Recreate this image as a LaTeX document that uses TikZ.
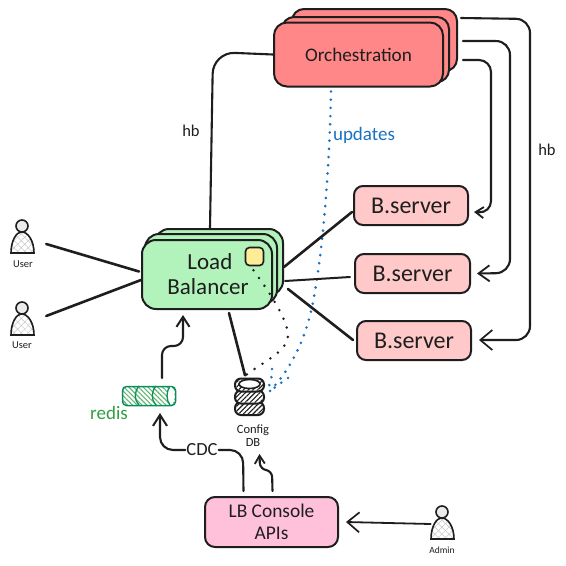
\documentclass[tikz,border=0pt]{standalone}
\usepackage{fontspec}
\setmainfont{Carlito}
\usetikzlibrary{calc,arrows.meta,patterns.meta}
\definecolor{ink}{HTML}{1E1E1E}
\definecolor{orch}{HTML}{FF8787}
\definecolor{srv}{HTML}{FFC9C9}
\definecolor{lbg}{HTML}{B2F2BB}
\definecolor{pinkb}{HTML}{FFC0DA}
\definecolor{yel}{HTML}{FFEC99}
\definecolor{blu}{HTML}{1971C2}
\definecolor{grn}{HTML}{2F9E44}
\definecolor{dgrn}{HTML}{0B8F5A}
\tikzset{
  box/.style={draw=ink,line width=2pt,rounded corners=#1,inner sep=0pt,text=ink,align=center},
  box/.default=9pt,
  conn/.style={draw=ink,line width=2.1pt,line cap=round,rounded corners=14pt},
  plainline/.style={draw=ink,line width=2.6pt,line cap=round},
  headA/.style={-{Straight Barb[length=10pt,width=14pt,line width=1.9pt]}},
  headB/.style={-{Straight Barb[length=12pt,width=20pt,line width=1.7pt]}},
  bluedots/.style={draw=blu,line width=2.9pt,line cap=round,dash pattern=on 0pt off 8.2pt},
  blackdots/.style={draw=ink,line width=2.8pt,line cap=round,dash pattern=on 0pt off 9.5pt},
  lab/.style={text=ink,inner sep=0pt,align=center},
  ghost/.style={inner sep=0pt,minimum width=#1},
  person/.pic={
    \path[fill=white,pattern={Lines[angle=45,distance=5pt,line width=.5pt]},pattern color=black!22]
      (-11,27) .. controls (-11,15) and (-6,6) .. (0,6) .. controls (6,6) and (12,15) .. (12,27) -- cycle;
    \draw[ink,line width=1.6pt,pattern={Lines[angle=-45,distance=5pt,line width=.5pt]},pattern color=black!22]
      (-11,27) .. controls (-11,15) and (-6,6) .. (0,6) .. controls (6,6) and (12,15) .. (12,27) -- cycle;
    \draw[ink,line width=1.6pt,fill=black!8] (0,0) circle (6);
  }
}
\begin{document}
\begin{tikzpicture}[x=1pt,y=-1pt]
\useasboundingbox (0,0) rectangle (566,566);
\fill[white] (0,0) rectangle (566,566);

% Orchestration stack
\node[box=12pt,fill=orch,minimum width=165pt,minimum height=62pt] (orch3) at (374.5,40) {};
\node[box=12pt,fill=orch,minimum width=167pt,minimum height=65pt] (orch2) at (365.5,49.5) {};
\node[box=13pt,fill=orch,minimum width=169pt,minimum height=64pt,font=\fontsize{19.2}{20}\selectfont] (orch) at (358.5,54.5) {Orchestration};

% B.servers
\node[box,fill=srv,minimum width=114pt,minimum height=39pt,font=\fontsize{24}{26}\selectfont] (s1) at (411,205.5) {B.server};
\node[box,fill=srv,minimum width=115pt,minimum height=39pt,font=\fontsize{24}{26}\selectfont] (s2) at (412.5,273.5) {B.server};
\node[box,fill=srv,minimum width=114pt,minimum height=39pt,font=\fontsize{24}{26}\selectfont] (s3) at (414,340.5) {B.server};

% Load balancer stack
\node[box=14pt,fill=lbg,minimum width=128pt,minimum height=66pt] (lb3) at (219,262) {};
\node[box=14pt,fill=lbg,minimum width=132pt,minimum height=70pt] (lb2) at (211,269) {};
\node[box=14pt,fill=lbg,minimum width=130pt,minimum height=69pt] (lb) at (207,274.5) {};
\node[lab,font=\fontsize{23}{25}\selectfont] (lbt) at (208,274.5) {\,Load\\Balancer};
\node[box=4pt,fill=yel,minimum width=18pt,minimum height=18pt,line width=1.6pt] (cfg) at (254.5,256.5) {};

% Console
\node[box=10pt,fill=pinkb,minimum width=133pt,minimum height=50pt,font=\fontsize{19.4}{22}\selectfont] (lbc) at (271.5,522) {LB Console\\APIs};

% Users
\pic at (22,226) {person};
\node[ghost=28pt,minimum height=33pt] (u1) at (23,238) {};
\pic at (22,308) {person};
\node[ghost=28pt,minimum height=33pt] (u2) at (23,320) {};
\pic at (442,512) {person};
\node[ghost=28pt,minimum height=33pt] (adm) at (442,524) {};
\node[lab,font=\fontsize{10.5}{12}\selectfont] (u1t) at (23,264) {User};
\node[lab,font=\fontsize{10.5}{12}\selectfont] (u2t) at (22,345) {User};
\node[lab,font=\fontsize{9.5}{12}\selectfont] (admt) at (442,550) {Admin};

% Redis
\node[draw=dgrn,line width=1.5pt,rounded corners=4pt,minimum width=53pt,minimum height=19pt,inner sep=0pt,
  pattern={Lines[angle=-45,distance=3.4pt,line width=1.1pt]},pattern color=grn!75] (redis) at (149,396) {};
\draw[dgrn,line width=1.3pt] (139,386) .. controls (134,392) and (134,400) .. (139,405);
\draw[dgrn,line width=1.3pt] (156,386) .. controls (151,392) and (151,400) .. (156,405);
\path[fill=white] (170,386.5) .. controls (166,392) and (166,400) .. (170,405) .. controls (176,403) and (176,389) .. (170,386.5) -- cycle;
\draw[dgrn,line width=1.3pt] (170,386) .. controls (166,392) and (166,400) .. (170,405);
\node[lab,text=grn,font=\fontsize{19}{21}\selectfont] (redist) at (109,413) {redis};

% Config DB
\node[inner sep=0pt,minimum width=30pt,minimum height=38pt] (db) at (249.5,396.5) {};
\foreach \yy in {408.5,397,385}{
  \draw[ink,line width=2pt,fill=white,rounded corners=6pt] (235,\yy-6.5) rectangle (264,\yy+6.5);
  \path[pattern={Lines[angle=45,distance=3.4pt,line width=1.1pt]},pattern color=ink,rounded corners=5pt] (236,\yy-5.5) rectangle (263,\yy+5.5);
}
\draw[ink,line width=1.6pt,fill=white] (249.5,384) ellipse (10.5 and 4.5);
\node[lab,font=\fontsize{12.5}{13.5}\selectfont] (dbt) at (253,435.5) {Config\\DB};

% Dotted flows
\draw[blackdots] ($(cfg.south)+(-1,4)$) .. controls (268,290) and (288,320) .. (288,335) .. controls (288,352) and (262,362) .. ($(db.north)+(-5,-1)$);
\draw[bluedots] ($(orch.south)+(-27.5,4)$) .. controls (330,150) and (325,230) .. (316,285) .. controls (308,340) and (290,370) .. ($(db.east)+(3,-3)$);
\draw[bluedots] (272,369) .. controls (272,376) and (271,382) .. ($(db.east)+(4,-10)$);
\draw[bluedots] (288,378) .. controls (281,383) and (276,386) .. ($(db.east)+(4,-4)$);

% Straight links
\draw[plainline] ($(u1.east)+(9,6)$) -- ($(lb.west)+(-2,-3)$);
\draw[plainline] ($(u2.east)+(9,-4)$) -- ($(lb.west)+(0,5.5)$);
\draw[plainline] ($(lb3.east)+(0,5)$) -- ($(s1.west)+(-1,6.5)$);
\draw[draw=ink,line width=2pt,line cap=round] ($(lb3.east)+(1,19)$) -- ($(s2.west)+(-4,3.5)$);
\draw[plainline] ($(lb3.east)+(4,27)$) -- ($(s3.west)+(-3,-0.5)$);
\draw[plainline] ($(lb.south)+(22,3)$) -- ($(db.north)+(-4.5,-2)$);

% hb from orchestration
\draw[conn,rounded corners=22pt] (orch.west) -- (213,52) -- ($(lb3.north)+(-9,0)$);
\node[lab,font=\fontsize{16.5}{18}\selectfont] (hb1) at (191,131) {hb};

% Heartbeat links to servers
\draw[conn,headB,rounded corners=14pt] ($(orch3.north east)+(3,10)$) -- (530,19) -- (530,340) -- ($(s3.east)+(7,-0.5)$);
\draw[conn,headA,rounded corners=14pt,-{Straight Barb[length=11pt,width=16pt,line width=1.8pt]}] ($(orch3.east)+(5,1)$) -- (510,41) -- (510,273) -- ($(s2.east)+(6,0)$);
\draw[conn,headA,rounded corners=12pt,-{Straight Barb[length=8pt,width=11pt,line width=1.8pt]}] ($(orch3.east)+(5,20)$) -- (491,60) -- (491,213) -- ($(s1.east)+(5,6.5)$);
\node[lab,font=\fontsize{16.5}{18}\selectfont] (hb2) at (547,150) {hb};

\node[lab,text=blu,font=\fontsize{19}{21}\selectfont] (upd) at (364,135) {updates};

% Redis to LB
\draw[conn,rounded corners=9pt,-{Straight Barb[length=10pt,width=13pt,line width=2pt]}] ($(redis.north)+(13,-8)$) -- (162,346) -- (183,346) -- ($(lb.south)+(-24,5)$);

% CDC
\node[lab,fill=white,inner xsep=1pt,font=\fontsize{18.5}{20}\selectfont] (cdc) at (202,450) {CDC};
\draw[conn,rounded corners=13pt] ($(lbc.north)+(-28,-5)$) -- (243,450) -- (cdc.east);
\draw[conn,rounded corners=13pt,-{Straight Barb[length=11pt,width=14pt,line width=2pt]}] (cdc.west) -- (160,450) -- ($(redis.south)+(11,7)$);

% Console to DB
\draw[conn,rounded corners=6pt,-{Straight Barb[length=8pt,width=10pt,line width=1.8pt]}] ($(lbc.north)+(1,-5)$) -- (272,471) -- (260,469) -- (259.5,454);

% Admin to console
\draw[conn,headB,line width=1.8pt] ($(adm.west)+(3,0)$) -- ($(lbc.east)+(7,0)$);
\end{tikzpicture}
\end{document}
